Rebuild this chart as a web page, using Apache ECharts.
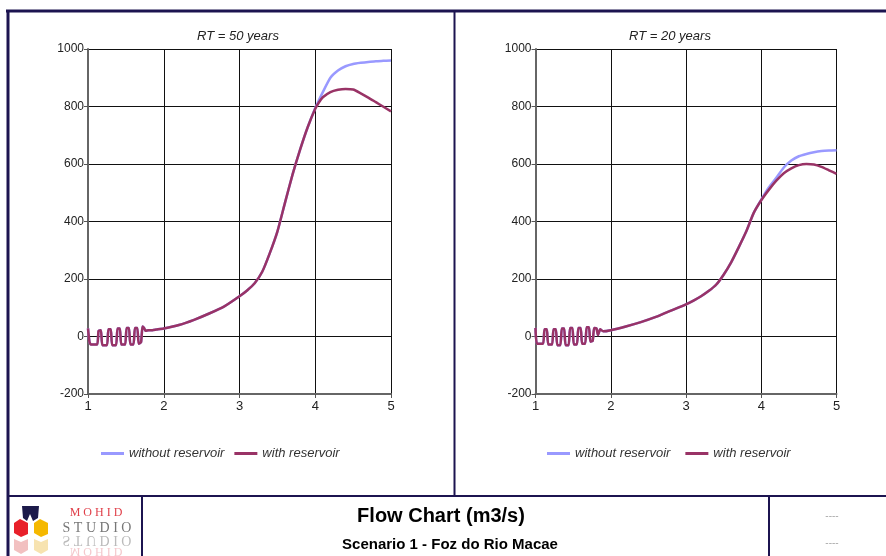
<!DOCTYPE html>
<html><head><meta charset="utf-8">
<script src="https://cdn.jsdelivr.net/npm/echarts@6/dist/echarts.min.js"></script>
<style>html,body{margin:0;padding:0;background:#fff}#c{width:886px;height:556px}</style>
</head><body><div id="c"></div>
<script>
// ---- Data ----
const seriesNames = ['without reservoir', 'with reservoir'];
const titles = ['RT = 50 years', 'RT = 20 years'];
const xTicks = [1, 2, 3, 4, 5];
const yTicks = [-200, 0, 200, 400, 600, 800, 1000];

// Left chart (RT = 50 years)
const leftX = [1.00,1.02,1.04,1.12,1.14,1.17,1.19,1.25,1.27,1.30,1.32,1.37,1.39,1.42,1.44,1.49,1.51,1.54,1.56,1.60,1.62,1.65,1.67,1.70,1.72,1.74,1.76,1.80,1.85,1.90,2.0,2.2,2.4,2.6,2.8,3.0,3.1,3.2,3.3,3.4,3.5,3.6,3.7,3.8,3.9,4.0,4.05,4.1,4.2,4.3,4.4,4.5,4.6,4.7,4.8,4.9,5.0];
const leftWith = [28,-20,-28,-28,20,22,-30,-30,25,25,-30,-30,28,28,-28,-28,30,30,-28,-28,30,30,-25,-20,35,30,20,22,22,24,28,40,58,80,105,140,160,185,225,290,365,465,563,650,728,792,815,832,850,858,861,859,846,831,815,799,783];
const leftWithout = [28,-20,-28,-28,20,22,-30,-30,25,25,-30,-30,28,28,-28,-28,30,30,-28,-28,30,30,-25,-20,35,30,20,22,22,24,28,40,58,80,105,140,160,185,225,290,365,465,563,650,728,795,823,850,900,925,940,948,952,955,957,959,960];

// Right chart (RT = 20 years)
const rightX = [1.00,1.02,1.10,1.12,1.15,1.17,1.22,1.24,1.27,1.29,1.33,1.35,1.38,1.40,1.44,1.46,1.49,1.51,1.55,1.57,1.60,1.62,1.66,1.68,1.71,1.73,1.76,1.78,1.81,1.83,1.86,1.90,2.0,2.2,2.4,2.6,2.8,3.0,3.1,3.2,3.3,3.4,3.5,3.6,3.7,3.8,3.9,4.0,4.1,4.2,4.3,4.4,4.5,4.6,4.7,4.8,4.9,5.0];
const rightWith = [30,-25,-25,25,25,-28,-28,25,25,-30,-30,28,28,-30,-30,30,30,-28,-28,30,30,-25,-25,32,32,-18,-15,30,28,5,25,18,22,35,50,68,90,112,125,140,158,180,215,258,310,365,430,474,510,542,568,585,596,600,598,590,578,566];
const rightWithout = [30,-25,-25,25,25,-28,-28,25,25,-30,-30,28,28,-30,-30,30,30,-28,-28,30,30,-25,-25,32,32,-18,-15,30,28,5,25,18,22,35,50,68,90,112,125,140,158,180,215,258,310,365,430,476,518,552,588,612,627,635,641,645,647,648];

// ---- Chart ----
const FONT = "'Liberation Sans', Arial, sans-serif";
const colWithout = '#9999FF';
const colWith = '#993366';
const navy = '#1c1450';

function pairs(xs, ys) { return xs.map((x, i) => [x, ys[i]]); }

const grids = [
  { left: 88, top: 49, width: 303, height: 345 },
  { left: 535.5, top: 49, width: 301, height: 345 }
];

function xAxis(i) {
  return {
    gridIndex: i, type: 'value', min: xTicks[0], max: xTicks[xTicks.length - 1], interval: 1,
    axisLine: { onZero: false, lineStyle: { color: '#666', width: 2 } },
    axisTick: { show: true, length: 4, lineStyle: { color: '#555' } },
    axisLabel: { color: '#222', fontFamily: FONT, fontSize: 13, margin: 6 },
    splitLine: { show: true, lineStyle: { color: '#111', width: 1 } }
  };
}
function yAxis(i) {
  return {
    gridIndex: i, type: 'value', min: yTicks[0], max: yTicks[yTicks.length - 1], interval: 200,
    axisLine: { show: true, lineStyle: { color: '#666', width: 2 } },
    axisTick: { show: true, length: 4, lineStyle: { color: '#555' } },
    axisLabel: { color: '#222', fontFamily: FONT, fontSize: 12, margin: 4, formatter: v => String(v) },
    splitLine: { show: true, lineStyle: { color: '#111', width: 1 } }
  };
}
function line(name, i, data, color) {
  return {
    name, type: 'line', xAxisIndex: i, yAxisIndex: i, data,
    symbol: 'none', smooth: 0.2, animation: false,
    lineStyle: { color, width: 2.5 }, itemStyle: { color }, z: name === 'with reservoir' ? 3 : 2
  };
}
function legend(left, gap) {
  return {
    left, top: 442, icon: 'rect', itemWidth: 23, itemHeight: 3, itemGap: gap, data: seriesNames,
    selectedMode: false,
    textStyle: { fontFamily: FONT, fontSize: 13, fontStyle: 'italic', color: '#333' }
  };
}

const chart = echarts.init(document.getElementById('c'), null, { renderer: 'canvas' });
chart.setOption({
  animation: false,
  backgroundColor: '#fff',
  title: [
    { text: titles[0], left: 233, top: 25, textAlign: 'center',
      textStyle: { fontFamily: FONT, fontSize: 13, fontStyle: 'italic', fontWeight: 'normal', color: '#222' } },
    { text: titles[1], left: 665, top: 25, textAlign: 'center',
      textStyle: { fontFamily: FONT, fontSize: 13, fontStyle: 'italic', fontWeight: 'normal', color: '#222' } }
  ],
  legend: [legend(96, 10), legend(542, 15)],
  grid: grids,
  xAxis: [xAxis(0), xAxis(1)],
  yAxis: [yAxis(0), yAxis(1)],
  series: [
    line(seriesNames[0], 0, pairs(leftX, leftWithout), colWithout),
    line(seriesNames[1], 0, pairs(leftX, leftWith), colWith),
    line(seriesNames[0], 1, pairs(rightX, rightWithout), colWithout),
    line(seriesNames[1], 1, pairs(rightX, rightWith), colWith)
  ],
  graphic: [
    // frame
    { type: 'line', shape: { x1: 6, y1: 11, x2: 886, y2: 11 }, style: { stroke: navy, lineWidth: 3 }, silent: true },
    { type: 'line', shape: { x1: 8, y1: 10, x2: 8, y2: 556 }, style: { stroke: navy, lineWidth: 3 }, silent: true },
    { type: 'line', shape: { x1: 454.5, y1: 11, x2: 454.5, y2: 496 }, style: { stroke: navy, lineWidth: 2 }, silent: true },
    { type: 'line', shape: { x1: 8, y1: 496, x2: 886, y2: 496 }, style: { stroke: navy, lineWidth: 2 }, silent: true },
    { type: 'line', shape: { x1: 142, y1: 496, x2: 142, y2: 556 }, style: { stroke: navy, lineWidth: 2 }, silent: true },
    { type: 'line', shape: { x1: 769, y1: 496, x2: 769, y2: 556 }, style: { stroke: navy, lineWidth: 2 }, silent: true },
    // banner texts
    { type: 'text', x: 441, y: 516, style: { text: 'Flow Chart (m3/s)', font: "bold 20px 'Liberation Sans', Arial", fill: '#000', textAlign: 'center', textVerticalAlign: 'middle' } },
    { type: 'text', x: 450, y: 545, style: { text: 'Scenario 1 - Foz do Rio Macae', font: "bold 15px 'Liberation Sans', Arial", fill: '#000', textAlign: 'center', textVerticalAlign: 'middle' } },
    { type: 'text', x: 832, y: 516, style: { text: '----', font: "10px 'Liberation Sans', Arial", fill: '#aaa', textAlign: 'center', textVerticalAlign: 'middle' } },
    { type: 'text', x: 832, y: 543, style: { text: '----', font: "10px 'Liberation Sans', Arial", fill: '#aaa', textAlign: 'center', textVerticalAlign: 'middle' } },
    // logo
    { type: 'polygon', shape: { points: [[22,506],[39,506],[38,518],[33,521],[30,514],[27,521],[23,518]] }, style: { fill: '#1c1a4a' }, silent: true },
    { type: 'polygon', shape: { points: [[20,519],[28,523],[28,534],[21,537],[14,533],[14,523]] }, style: { fill: '#e8202a' }, silent: true },
    { type: 'polygon', shape: { points: [[40,519],[48,523],[48,534],[41,537],[34,533],[34,523]] }, style: { fill: '#f5b800' }, silent: true },
    { type: 'polygon', shape: { points: [[14,539],[21,542],[28,539],[28,550],[21,554],[14,550]] }, style: { fill: '#f2c0c0' }, silent: true },
    { type: 'polygon', shape: { points: [[34,539],[41,542],[48,539],[48,550],[41,554],[34,550]] }, style: { fill: '#f7e3b0' }, silent: true },
    { type: 'text', x: 96, y: 513, style: { text: 'M O H I D', font: "12px 'Liberation Serif', 'DejaVu Serif', serif", fill: '#e0404a', textAlign: 'center', textVerticalAlign: 'middle' } },
    { type: 'text', x: 97, y: 528, style: { text: 'S T U D I O', font: "14px 'Liberation Serif', 'DejaVu Serif', serif", fill: '#777', textAlign: 'center', textVerticalAlign: 'middle' } },
    { type: 'text', x: 97, y: 540, scaleY: -1, style: { text: 'S T U D I O', font: "14px 'Liberation Serif', 'DejaVu Serif', serif", fill: '#bbb', textAlign: 'center', textVerticalAlign: 'middle' } },
    { type: 'text', x: 96, y: 551, scaleY: -1, style: { text: 'M O H I D', font: "12px 'Liberation Serif', 'DejaVu Serif', serif", fill: '#f4c8cc', textAlign: 'center', textVerticalAlign: 'middle' } }
  ]
});
</script>
</body></html>
